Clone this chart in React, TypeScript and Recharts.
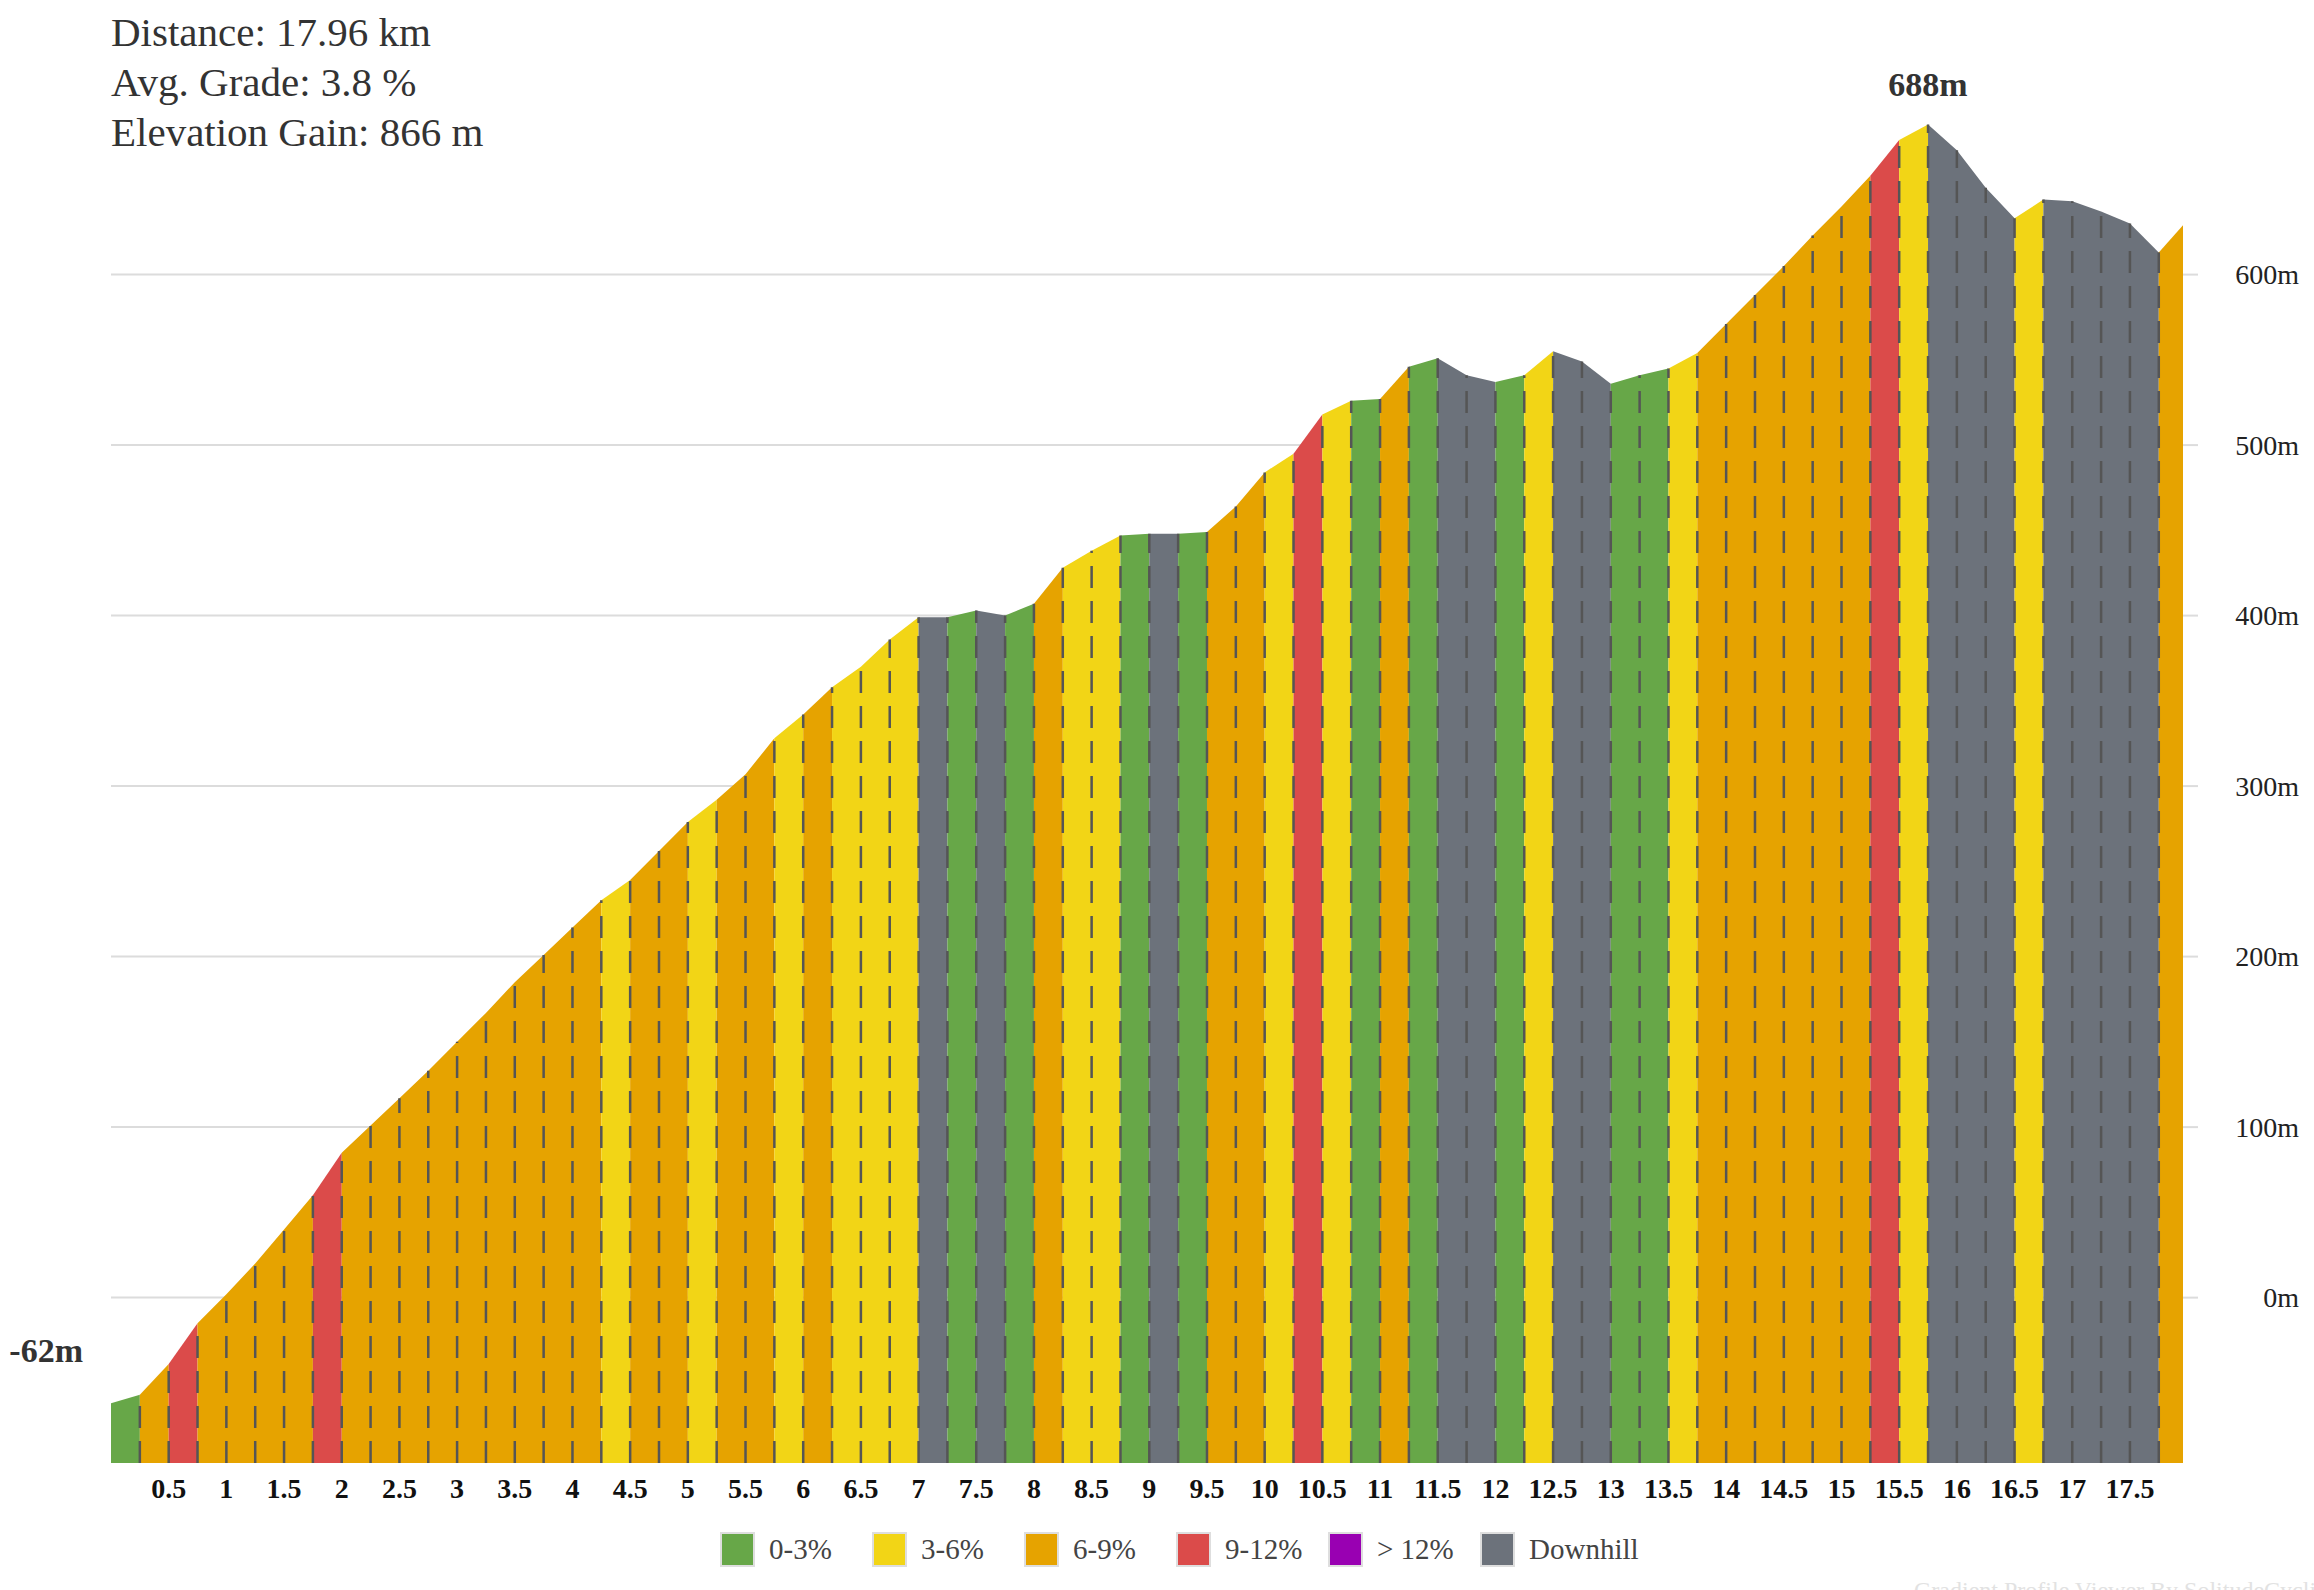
import React from "react";
import {
  ComposedChart,
  Area,
  XAxis,
  YAxis,
  CartesianGrid,
  ReferenceLine,
  ReferenceDot,
} from "recharts";

// distance along the climb (km), one point every 250 m
const distanceKm = [
  0, 0.25, 0.5, 0.75, 1, 1.25, 1.5, 1.75, 2, 2.25, 2.5, 2.75, 3, 3.25, 3.5,
  3.75, 4, 4.25, 4.5, 4.75, 5, 5.25, 5.5, 5.75, 6, 6.25, 6.5, 6.75, 7, 7.25,
  7.5, 7.75, 8, 8.25, 8.5, 8.75, 9, 9.25, 9.5, 9.75, 10, 10.25, 10.5, 10.75,
  11, 11.25, 11.5, 11.75, 12, 12.25, 12.5, 12.75, 13, 13.25, 13.5, 13.75, 14,
  14.25, 14.5, 14.75, 15, 15.25, 15.5, 15.75, 16, 16.25, 16.5, 16.75, 17,
  17.25, 17.5, 17.75, 17.96,
];

// elevation (m) at each point
const elevationM = [
  -62, -57, -39, -15, 2, 20, 40, 60, 85, 101, 117, 133, 150, 167, 185, 201,
  217, 233, 245, 262, 279, 292, 307, 328, 342, 358, 370, 386, 399, 399, 403,
  400, 407, 428, 438, 447, 448, 448, 449, 464, 484, 495, 518, 526, 527, 546,
  551, 541, 537, 541, 555, 549, 536, 541, 545, 554, 571, 588, 605, 623, 640,
  658, 679, 688, 673, 651, 633, 644, 643, 637, 630, 613, 629,
];

const gradeNames = ["0-3%", "3-6%", "6-9%", "9-12%", "> 12%", "Downhill"];
const gradeColors = ["#67a748", "#f2d516", "#e6a300", "#db4b4a", "#9900b2", "#6c727b"];

const G = "0-3%";
const Y = "3-6%";
const O = "6-9%";
const R = "9-12%";
const D = "Downhill";

// grade class of each 250 m stretch (between consecutive points)
const segmentGrade = [
  G, O, R, O, O, O, O, R, O, O, O, O, O, O, O, O, O, Y, O, O, Y, O, O, Y, O,
  Y, Y, Y, D, G, D, G, O, Y, Y, G, D, G, O, O, Y, R, Y, G, O, G, D, D, G, Y,
  D, D, G, G, Y, O, O, O, O, O, O, R, Y, D, D, D, Y, D, D, D, D, O,
];

const xTicks = [
  0.5, 1, 1.5, 2, 2.5, 3, 3.5, 4, 4.5, 5, 5.5, 6, 6.5, 7, 7.5, 8, 8.5, 9, 9.5,
  10, 10.5, 11, 11.5, 12, 12.5, 13, 13.5, 14, 14.5, 15, 15.5, 16, 16.5, 17,
  17.5,
];
const yTicks = [0, 100, 200, 300, 400, 500, 600];

const summary = ["Distance: 17.96 km", "Avg. Grade: 3.8 %", "Elevation Gain: 866 m"];

const Y_MIN = -97;
const Y_MAX = 720;

// group consecutive stretches of the same grade into one filled area
const runs: { grade: string; start: number; end: number }[] = [];
segmentGrade.forEach((g, i) => {
  const last = runs[runs.length - 1];
  if (last && last.grade === g) last.end = i + 1;
  else runs.push({ grade: g, start: i, end: i + 1 });
});

const rows = distanceKm.map((km, i) => {
  const row: Record<string, number | null> = { km, elev: elevationM[i] };
  runs.forEach((r, k) => {
    row[`run${k}`] = i >= r.start && i <= r.end ? elevationM[i] : null;
  });
  return row;
});

const peakIdx = elevationM.indexOf(Math.max(...elevationM));
const lowIdx = elevationM.indexOf(Math.min(...elevationM));

const colorOf = (g: string) => gradeColors[gradeNames.indexOf(g)];

const ElevTick = ({ x, y, payload }: any) => (
  <text x={x + 99} y={y} dy="0.35em" textAnchor="end" fontSize={28} fill="#222">
    {payload.value}m
  </text>
);

const peakLabel = (props: any) => {
  const { x, y, width, height } = props.viewBox;
  return (
    <text
      x={x + width / 2}
      y={y + height / 2 - 29}
      textAnchor="middle"
      fontSize={34}
      fontWeight="bold"
      fill="#333"
    >
      {elevationM[peakIdx]}m
    </text>
  );
};

const lowLabel = (props: any) => {
  const { x, y, width, height } = props.viewBox;
  return (
    <text
      x={x + width / 2 - 28}
      y={y + height / 2 - 41}
      textAnchor="end"
      fontSize={34}
      fontWeight="bold"
      fill="#333"
    >
      {elevationM[lowIdx]}m
    </text>
  );
};

export default function App() {
  return (
    <div
      style={{
        position: "absolute",
        left: 0,
        top: 0,
        width: 2314,
        height: 1590,
        overflow: "hidden",
        background: "#fff",
        fontFamily: '"Liberation Serif", "Times New Roman", serif',
      }}
    >
      <ComposedChart
        width={2314}
        height={1590}
        data={rows}
        margin={{ top: 70, right: 0, bottom: 67, left: 111 }}
      >
        <CartesianGrid
          vertical={false}
          horizontalValues={yTicks}
          stroke="#dcdcdc"
          strokeWidth={2}
        />
        <XAxis
          dataKey="km"
          type="number"
          domain={[0, 17.96]}
          ticks={xTicks}
          height={60}
          axisLine={false}
          tickLine={false}
          tickMargin={9}
          tick={{ fontSize: 28, fontWeight: "bold", fill: "#111" }}
        />
        <YAxis
          orientation="right"
          type="number"
          domain={[Y_MIN, Y_MAX]}
          ticks={yTicks}
          width={131}
          axisLine={false}
          tickSize={15}
          tickLine={{ stroke: "#dcdcdc", strokeWidth: 2 }}
          tick={<ElevTick />}
        />
        {runs.map((r, k) => (
          <Area
            key={`run${k}`}
            dataKey={`run${k}`}
            type="linear"
            stroke="none"
            fill={colorOf(r.grade)}
            fillOpacity={1}
            baseValue="dataMin"
            connectNulls={false}
            dot={false}
            activeDot={false}
            isAnimationActive={false}
          />
        ))}
        {distanceKm.slice(1, -1).map((km, j) => (
          <ReferenceLine
            key={`d${km}`}
            segment={[
              { x: km, y: Y_MIN },
              { x: km, y: elevationM[j + 1] },
            ]}
            stroke="#555"
            strokeWidth={2.5}
            strokeDasharray="22 13"
            ifOverflow="visible"
          />
        ))}
        <ReferenceDot
          x={distanceKm[peakIdx]}
          y={elevationM[peakIdx]}
          r={1}
          fill="none"
          stroke="none"
          label={peakLabel}
        />
        <ReferenceDot
          x={distanceKm[lowIdx]}
          y={elevationM[lowIdx]}
          r={1}
          fill="none"
          stroke="none"
          label={lowLabel}
        />
      </ComposedChart>

      <div
        style={{
          position: "absolute",
          left: 111,
          top: 7,
          fontSize: 41,
          lineHeight: "50px",
          color: "#333",
        }}
      >
        {summary.map((s) => (
          <div key={s}>{s}</div>
        ))}
      </div>

      <div
        style={{
          position: "absolute",
          left: 720,
          top: 1532,
          height: 35,
          display: "flex",
          alignItems: "center",
        }}
      >
        {gradeNames.map((name, i) => (
          <div key={name} style={{ width: 152, display: "flex", alignItems: "center", whiteSpace: "nowrap" }}>
            <div
              style={{
                width: 35,
                height: 35,
                boxSizing: "border-box",
                border: "2px solid #dedede",
                background: gradeColors[i],
                flex: "none",
              }}
            />
            <span style={{ marginLeft: 14, fontSize: 29, color: "#444" }}>{name}</span>
          </div>
        ))}
      </div>

      <div
        style={{
          position: "absolute",
          left: 1914,
          top: 1578,
          fontSize: 24,
          lineHeight: "24px",
          color: "#e2e2e2",
          whiteSpace: "nowrap",
        }}
      >
        Gradient Profile Viewer By SolitudeCycling
      </div>
    </div>
  );
}
